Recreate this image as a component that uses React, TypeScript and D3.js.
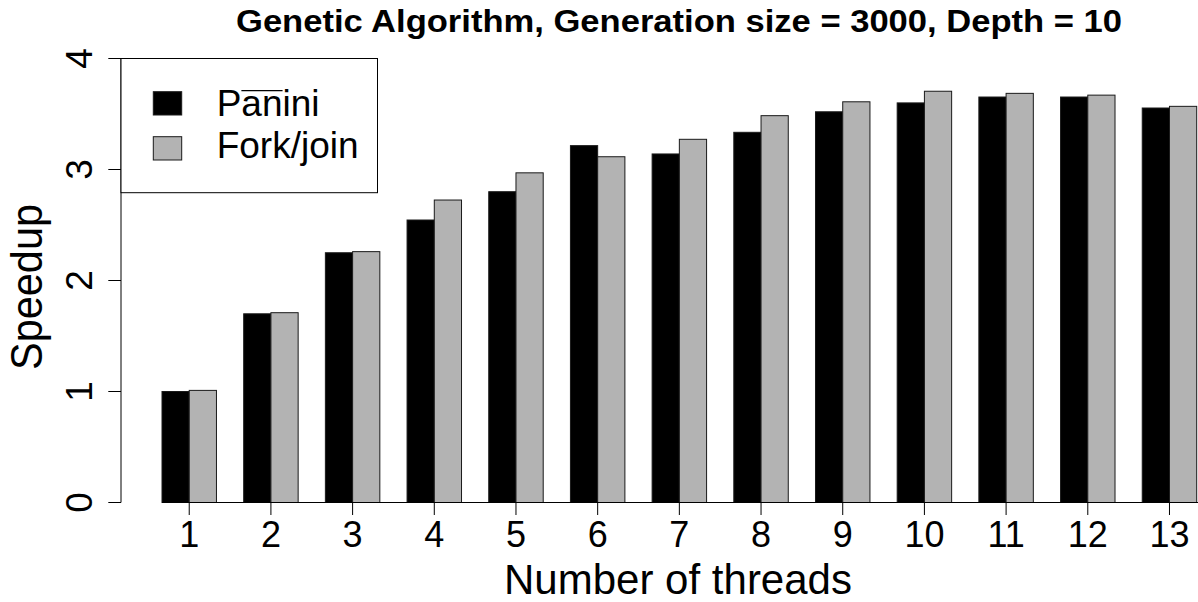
import React, { useEffect, useRef } from 'react';
import * as d3 from 'd3';

// data
const threads = ['1', '2', '3', '4', '5', '6', '7', '8', '9', '10', '11', '12', '13'];
const seriesNames = ['Panini', 'Fork/join'];
const paniniSpeedup = [1.0, 1.70, 2.25, 2.545, 2.80, 3.215, 3.14, 3.335, 3.52, 3.60, 3.653, 3.653, 3.554];
const forkJoinSpeedup = [1.01, 1.71, 2.26, 2.725, 2.97, 3.115, 3.272, 3.485, 3.61, 3.705, 3.686, 3.67, 3.569];
const yTicks = [0, 1, 2, 3, 4];

const WIDTH = 1198;
const HEIGHT = 602;
const FONT = "'Liberation Sans', Arial, Helvetica, sans-serif";

const App: React.FC = () => {
  const svgRef = useRef<SVGSVGElement>(null);

  useEffect(() => {
    if (!svgRef.current) return;
    const svg = d3.select(svgRef.current);
    svg.selectAll('*').remove();

    const plotLeft = 121;
    const y = d3.scaleLinear().domain([0, 4]).range([502.5, 58.5]);

    // groups of two bars, gap of one bar width between groups
    const x = d3.scaleBand<string>()
      .domain(threads)
      .range([162, 1196.7])
      .paddingInner(1 / 3)
      .paddingOuter(0);

    const xInner = d3.scaleBand<string>()
      .domain(seriesNames)
      .range([0, x.bandwidth()]);

    const color = d3.scaleOrdinal<string, string>()
      .domain(seriesNames)
      .range(['#000000', '#b3b3b3']);

    const rows = threads.flatMap((t, i) => [
      { t, s: seriesNames[0], v: paniniSpeedup[i] },
      { t, s: seriesNames[1], v: forkJoinSpeedup[i] },
    ]);

    // bars
    svg.append('g')
      .selectAll('rect')
      .data(rows)
      .enter()
      .append('rect')
      .attr('x', d => (x(d.t) || 0) + (xInner(d.s) || 0))
      .attr('y', d => y(d.v))
      .attr('width', xInner.bandwidth())
      .attr('height', d => y(0) - y(d.v))
      .attr('fill', d => color(d.s))
      .attr('stroke', '#1a1a1a')
      .attr('stroke-width', 1);

    // x axis
    const xAxis = svg.append('g');
    xAxis.append('line')
      .attr('x1', x.range()[0]).attr('x2', WIDTH)
      .attr('y1', y(0)).attr('y2', y(0))
      .attr('stroke', '#000').attr('stroke-width', 1);
    xAxis.selectAll('.tick')
      .data(threads)
      .enter()
      .append('line')
      .attr('x1', d => (x(d) || 0) + x.bandwidth() / 2)
      .attr('x2', d => (x(d) || 0) + x.bandwidth() / 2)
      .attr('y1', y(0)).attr('y2', y(0) + 12.5)
      .attr('stroke', '#000').attr('stroke-width', 1);
    xAxis.selectAll('.lbl')
      .data(threads)
      .enter()
      .append('text')
      .attr('x', d => (x(d) || 0) + x.bandwidth() / 2)
      .attr('y', 547)
      .attr('text-anchor', 'middle')
      .attr('font-family', FONT)
      .attr('font-size', 36)
      .text(d => d);

    // y axis
    const yAxis = svg.append('g');
    yAxis.append('line')
      .attr('x1', plotLeft).attr('x2', plotLeft)
      .attr('y1', y(0)).attr('y2', y(4))
      .attr('stroke', '#000').attr('stroke-width', 1);
    yAxis.selectAll('.tick')
      .data(yTicks)
      .enter()
      .append('line')
      .attr('x1', plotLeft - 12.7).attr('x2', plotLeft)
      .attr('y1', d => y(d)).attr('y2', d => y(d))
      .attr('stroke', '#000').attr('stroke-width', 1);
    yAxis.selectAll('.lbl')
      .data(yTicks)
      .enter()
      .append('text')
      .attr('transform', d => `translate(92,${y(d)}) rotate(-90)`)
      .attr('text-anchor', 'middle')
      .attr('font-family', FONT)
      .attr('font-size', 37)
      .text(d => String(d));

    // axis titles
    svg.append('text')
      .attr('x', 678)
      .attr('y', 594)
      .attr('text-anchor', 'middle')
      .attr('font-family', FONT)
      .attr('font-size', 42)
      .attr('textLength', 348)
      .attr('lengthAdjust', 'spacingAndGlyphs')
      .text('Number of threads');

    svg.append('text')
      .attr('transform', 'translate(42,287) rotate(-90)')
      .attr('text-anchor', 'middle')
      .attr('font-family', FONT)
      .attr('font-size', 44)
      .attr('textLength', 166)
      .attr('lengthAdjust', 'spacingAndGlyphs')
      .text('Speedup');

    // title
    svg.append('text')
      .attr('x', 679)
      .attr('y', 32)
      .attr('text-anchor', 'middle')
      .attr('font-family', FONT)
      .attr('font-weight', 'bold')
      .attr('font-size', 31)
      .attr('textLength', 886)
      .attr('lengthAdjust', 'spacingAndGlyphs')
      .text('Genetic Algorithm, Generation size = 3000, Depth = 10');

    // legend
    const legend = svg.append('g');
    legend.append('rect')
      .attr('x', plotLeft).attr('y', y(4))
      .attr('width', 256.5).attr('height', 134.2)
      .attr('fill', '#fff').attr('stroke', '#000').attr('stroke-width', 1);
    const legendY = [91.7, 136.7];
    const legendBase = [116, 158];
    seriesNames.forEach((s, i) => {
      legend.append('rect')
        .attr('x', 153.3).attr('y', legendY[i])
        .attr('width', 28.4).attr('height', 23.3)
        .attr('fill', color(s))
        .attr('stroke', '#1a1a1a').attr('stroke-width', 1);
      const label = legend.append('text')
        .attr('x', 216.7)
        .attr('y', legendBase[i])
        .attr('font-family', FONT)
        .attr('font-size', 37)
        .text(s);
      if (s === 'Panini') {
        // overline over "an" in Pānini
        const node = label.node() as SVGTextElement;
        const start = node.getSubStringLength(0, 1);
        const len = node.getSubStringLength(1, 2);
        legend.append('line')
          .attr('x1', 216.7 + start).attr('x2', 216.7 + start + len)
          .attr('y1', 90.7).attr('y2', 90.7)
          .attr('stroke', '#000').attr('stroke-width', 1.2);
      }
    });
  }, []);

  return (
    <svg
      ref={svgRef}
      width={WIDTH}
      height={HEIGHT}
      style={{ position: 'absolute', left: 0, top: 0, background: '#fff' }}
    />
  );
};

export default App;
